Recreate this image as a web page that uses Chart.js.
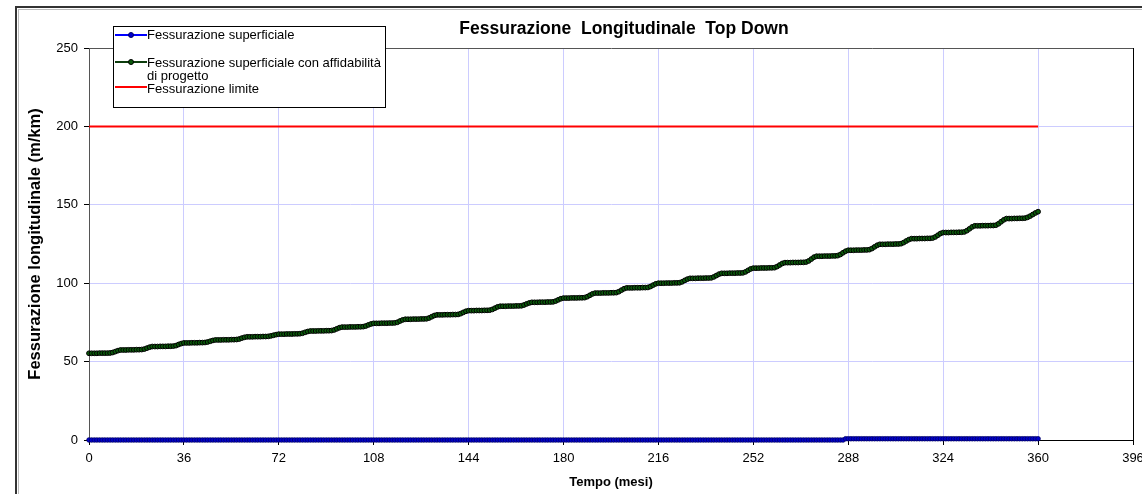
<!DOCTYPE html>
<html>
<head>
<meta charset="utf-8">
<script src="https://cdn.jsdelivr.net/npm/chart.js@4.4.1/dist/chart.umd.min.js"></script>
<style>
  html, body { margin: 0; padding: 0; background: #fff; }
  #wrap { width: 1142px; height: 494px; overflow: hidden; }
</style>
</head>
<body>
<div id="wrap"><canvas id="chart" width="1142" height="494"></canvas></div>
<script>
// values, one row per year (months 12k .. 12k+11)
const seriesLabels = [
    "Fessurazione superficiale",
    "Fessurazione superficiale con affidabilità\ndi progetto",
    "Fessurazione limite"
];

const superficiale = [
    0,0,0,0,0,0,0,0,0,0,0,0,
    0,0,0,0,0,0,0,0,0,0,0,0,
    0,0,0,0,0,0,0,0,0,0,0,0,
    0,0,0,0,0,0,0,0,0,0,0,0,
    0,0,0,0,0,0,0,0,0,0,0,0,
    0,0,0,0,0,0,0,0,0,0,0,0,
    0,0,0,0,0,0,0,0,0,0,0,0,
    0,0,0,0,0,0,0,0,0,0,0,0,
    0,0,0,0,0,0,0,0,0,0,0,0,
    0,0,0,0,0,0,0,0,0,0,0,0,
    0,0,0,0,0,0,0,0,0,0,0,0,
    0,0,0,0,0,0,0,0,0,0,0,0,
    0,0,0,0,0,0,0,0,0,0,0,0,
    0,0,0,0,0,0,0,0,0,0,0,0,
    0,0,0,0,0,0,0,0,0,0,0,0,
    0,0,0,0,0,0,0,0,0,0,0,0,
    0,0,0,0,0,0,0,0,0,0,0,0,
    0,0,0,0,0,0,0,0,0,0,0,0,
    0,0,0,0,0,0,0,0,0,0,0,0,
    0,0,0,0,0,0,0,0,0,0,0,0,
    0,0,0,0,0,0,0,0,0,0,0,0,
    0,0,0,0,0,0,0,0,0,0,0,0,
    0,0,0,0,0,0,0,0,0,0,0,0,
    0,0,0,0,0,0,0,0,0,0,0,0.8,
    0.8,0.8,0.8,0.8,0.8,0.8,0.8,0.8,0.8,0.8,0.8,0.8,
    0.8,0.8,0.8,0.8,0.8,0.8,0.8,0.8,0.8,0.8,0.8,0.8,
    0.8,0.8,0.8,0.8,0.8,0.8,0.8,0.8,0.8,0.8,0.8,0.8,
    0.8,0.8,0.8,0.8,0.8,0.8,0.8,0.8,0.8,0.8,0.8,0.8,
    0.8,0.8,0.8,0.8,0.8,0.8,0.8,0.8,0.8,0.8,0.8,0.8,
    0.8,0.8,0.8,0.8,0.8,0.8,0.8,0.8,0.8,0.8,0.8,0.8,
    0.8
];

const affidabilita = [
    55.3,55.3,55.3,55.3,55.4,55.4,55.4,55.4,55.5,55.8,56.4,57.0,
    57.4,57.4,57.4,57.5,57.5,57.5,57.6,57.6,57.7,58.0,58.6,59.2,
    59.6,59.6,59.6,59.7,59.7,59.7,59.8,59.8,59.9,60.2,60.9,61.5,
    61.9,61.9,61.9,62.0,62.0,62.0,62.1,62.1,62.2,62.5,63.0,63.5,
    63.8,63.8,63.8,63.9,63.9,63.9,64.0,64.0,64.1,64.4,65.0,65.5,
    65.8,65.8,65.8,65.9,65.9,65.9,66.0,66.0,66.1,66.4,66.8,67.2,
    67.5,67.5,67.5,67.6,67.6,67.6,67.7,67.7,67.8,68.1,68.7,69.2,
    69.5,69.5,69.5,69.6,69.6,69.6,69.7,69.7,69.8,70.2,70.9,71.6,
    72.0,72.0,72.0,72.1,72.1,72.1,72.2,72.2,72.3,72.7,73.4,74.0,
    74.4,74.4,74.4,74.5,74.5,74.5,74.6,74.6,74.7,75.1,75.9,76.6,
    77.0,77.0,77.0,77.1,77.1,77.1,77.2,77.2,77.3,77.8,78.6,79.4,
    79.8,79.8,79.8,79.9,79.9,79.9,80.0,80.0,80.1,80.6,81.4,82.1,
    82.5,82.5,82.5,82.6,82.6,82.6,82.7,82.7,82.8,83.3,84.1,84.9,
    85.3,85.3,85.3,85.4,85.4,85.4,85.5,85.5,85.6,86.1,86.8,87.4,
    87.8,87.8,87.8,87.9,87.9,87.9,88.0,88.0,88.1,88.6,89.4,90.1,
    90.5,90.5,90.5,90.6,90.6,90.6,90.7,90.7,90.8,91.4,92.3,93.2,
    93.7,93.7,93.7,93.8,93.8,93.8,93.9,93.9,94.0,94.6,95.6,96.5,
    97.0,97.0,97.0,97.1,97.1,97.1,97.2,97.2,97.3,97.9,98.8,99.6,
    100.0,100.0,100.0,100.1,100.1,100.1,100.2,100.2,100.3,100.9,101.8,102.6,
    103.1,103.1,103.1,103.2,103.2,103.2,103.3,103.3,103.4,104.0,104.9,105.8,
    106.3,106.3,106.3,106.4,106.4,106.4,106.5,106.5,106.6,107.2,108.2,109.1,
    109.6,109.6,109.6,109.7,109.7,109.7,109.8,109.8,109.9,110.6,111.6,112.6,
    113.1,113.1,113.1,113.2,113.2,113.2,113.3,113.3,113.5,114.2,115.4,116.6,
    117.2,117.2,117.2,117.3,117.3,117.3,117.4,117.4,117.6,118.3,119.4,120.4,
    121.0,121.0,121.0,121.1,121.1,121.1,121.2,121.2,121.4,122.1,123.2,124.2,
    124.8,124.8,124.8,124.9,124.9,124.9,125.0,125.0,125.2,125.9,126.9,127.8,
    128.4,128.4,128.4,128.5,128.5,128.5,128.6,128.6,128.8,129.5,130.6,131.7,
    132.3,132.3,132.3,132.4,132.4,132.4,132.5,132.5,132.7,133.5,134.7,135.9,
    136.6,136.6,136.6,136.7,136.7,136.7,136.8,136.8,137.0,137.9,139.2,140.4,
    141.2,141.2,141.2,141.3,141.3,141.4,141.4,141.5,142.0,142.8,143.8,144.8,
    145.6
];

const limiteMonths = [0, 360];
const limiteValues = [200, 200];

const xMax = 396;
const xStep = 36;
const yMax = 250;
const yStep = 50;

const chartTitle = "Fessurazione  Longitudinale  Top Down";
const xTitle = "Tempo (mesi)";
const yTitle = "Fessurazione longitudinale (m/km)";

const FONT = "'Liberation Sans', Arial, sans-serif";
const GRID = "#ccccff";

function toPoints(values) {
    return values.map((v, month) => ({ x: month, y: v }));
}

const frame = {
    id: "frame",
    beforeDraw(chart) {
        const ctx = chart.ctx;
        ctx.save();
        ctx.fillStyle = "#fff";
        ctx.fillRect(0, 0, chart.width, chart.height);
        ctx.strokeStyle = "#bbb";
        ctx.lineWidth = 1;
        ctx.strokeRect(18.5, 9.5, chart.width + 20, chart.height + 20);
        ctx.strokeStyle = "#333";
        ctx.lineWidth = 2;
        ctx.strokeRect(16, 7, chart.width + 20, chart.height + 20);
        ctx.restore();
    }
};

const titleText = {
    id: "titleText",
    afterDraw(chart) {
        const ctx = chart.ctx;
        const area = chart.chartArea;
        ctx.save();
        ctx.font = "bold 17.5px " + FONT;
        ctx.fillStyle = "#000";
        ctx.textAlign = "center";
        ctx.textBaseline = "middle";
        ctx.fillText(chartTitle, (area.left + area.right) / 2 + 13, 29);
        ctx.restore();
    }
};

// box legend overlapping the plot, like the spreadsheet one
const boxLegend = {
    id: "boxLegend",
    afterDraw(chart) {
        const ctx = chart.ctx;
        const rows = [
            { lineY: 35, textY: [35] },
            { lineY: 62, textY: [63, 76] },
            { lineY: 87, textY: [89] }
        ];
        ctx.save();
        ctx.fillStyle = "#fff";
        ctx.fillRect(113, 26, 272, 81);
        ctx.strokeStyle = "#000";
        ctx.lineWidth = 1;
        ctx.strokeRect(113.5, 26.5, 272, 81);
        ctx.font = "13px " + FONT;
        ctx.textBaseline = "middle";
        ctx.textAlign = "left";
        chart.data.datasets.forEach((ds, i) => {
            const row = rows[i];
            ctx.strokeStyle = ds.borderColor;
            ctx.lineWidth = 2;
            ctx.beginPath();
            ctx.moveTo(115, row.lineY);
            ctx.lineTo(147, row.lineY);
            ctx.stroke();
            if (ds.pointRadius > 0) {
                ctx.fillStyle = ds.pointBackgroundColor;
                ctx.strokeStyle = ds.pointBorderColor;
                ctx.lineWidth = 1;
                ctx.beginPath();
                ctx.arc(131, row.lineY, 2.5, 0, Math.PI * 2);
                ctx.fill();
                ctx.stroke();
            }
            ctx.fillStyle = "#000";
            ds.label.split("\n").forEach((line, j) => {
                ctx.fillText(line, 147, row.textY[j]);
            });
        });
        ctx.restore();
    }
};

const ctx = document.querySelector("#chart");
const data = {
    datasets: [{
        label: seriesLabels[0],
        data: toPoints(superficiale),
        borderColor: "#0000ff",
        borderWidth: 1.5,
        pointRadius: 2.3,
        pointBackgroundColor: "#0000cc",
        pointBorderColor: "#000066",
        pointBorderWidth: 0.8,
        clip: false
    }, {
        label: seriesLabels[1],
        data: toPoints(affidabilita),
        borderColor: "#0d3d0d",
        borderWidth: 2,
        pointRadius: 2.4,
        pointBackgroundColor: "#0b5a0b",
        pointBorderColor: "#000000",
        pointBorderWidth: 1,
        clip: false
    }, {
        label: seriesLabels[2],
        data: limiteMonths.map((m, i) => ({ x: m, y: limiteValues[i] })),
        borderColor: "#ff0000",
        borderWidth: 2,
        pointRadius: 0,
        clip: false
    }]
};

const options = {
    responsive: false,
    animation: false,
    layout: {
        padding: { left: 16, top: 48, right: 9, bottom: 0 }
    },
    plugins: {
        legend: { display: false },
        title: { display: false },
        tooltip: { enabled: false }
    },
    scales: {
        x: {
            type: "linear",
            min: 0,
            max: xMax,
            ticks: {
                stepSize: xStep,
                color: "#000",
                font: { family: FONT, size: 13 },
                maxRotation: 0,
                padding: 6
            },
            grid: {
                color: (c) => c.tick && c.tick.value === xMax ? "#000" : GRID,
                tickColor: "#000",
                tickLength: 5
            },
            border: { color: "#000", width: 1 },
            title: {
                display: true,
                text: xTitle,
                color: "#000",
                font: { family: FONT, size: 13, weight: "bold" },
                padding: { top: 4, bottom: 4 }
            },
            afterFit: (scale) => {
                scale.height = 54;
                scale.paddingLeft = 0;
                scale.paddingRight = 0;
            }
        },
        y: {
            min: 0,
            max: yMax,
            ticks: {
                stepSize: yStep,
                color: "#000",
                font: { family: FONT, size: 13 },
                padding: 6
            },
            grid: {
                color: (c) => c.tick && c.tick.value === yMax ? "#555" : GRID,
                tickColor: "#000",
                tickLength: 5
            },
            border: { color: "#555", width: 1 },
            title: {
                display: true,
                text: yTitle,
                color: "#000",
                font: { family: FONT, size: 16.5, weight: "bold" },
                padding: { top: 10, bottom: 10 }
            },
            afterFit: (scale) => {
                scale.width = 73;
                scale.paddingTop = 0;
                scale.paddingBottom = 0;
            }
        }
    }
};

const config = {
    type: "line",
    data: data,
    options: options,
    plugins: [frame, titleText, boxLegend]
};

const lineChart = new Chart(ctx, config);
</script>
</body>
</html>
